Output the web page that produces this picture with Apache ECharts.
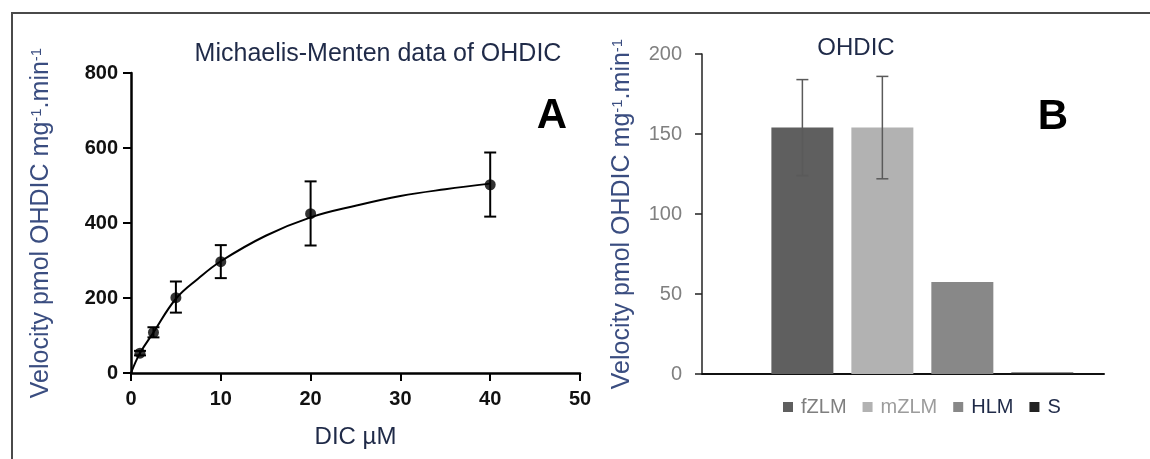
<!DOCTYPE html>
<html>
<head>
<meta charset="utf-8">
<script src="https://cdn.jsdelivr.net/npm/echarts@6/dist/echarts.min.js"></script>
<style>
  html, body { margin: 0; padding: 0; background: #fff; }
  #main { width: 1150px; height: 459px; }
</style>
</head>
<body>
<div id="main"></div>
<script>
// ---- panel A : Michaelis-Menten data ----
var dicConc = [1, 2.5, 5, 10, 20, 40];
var velocity = [53, 108, 201, 297, 425, 502];
var velocityLow = [47, 95, 161, 253, 340, 417];
var velocityHigh = [59, 122, 244, 341, 511, 588];
// fitted curve, read as points from the figure
var fitX = [0, 1, 2.5, 5, 7.5, 10, 15, 20, 25, 30, 35, 40];
var fitY = [0, 53, 108, 198, 252, 298, 366, 415, 446, 472, 490, 505];
var xTicksA = [0, 10, 20, 30, 40, 50];
var yTicksA = [0, 200, 400, 600, 800];

// ---- panel B : OHDIC per microsome ----
var groups = ['fZLM', 'mZLM', 'HLM', 'S'];
var groupValues = [154, 154, 57.5, 1];
var groupLow = [124, 122, null, null];
var groupHigh = [184, 186, null, null];
var groupColors = ['#5f5f5f', '#b2b2b2', '#888888', '#222222'];
var legendColors = ['#7f7f7f', '#9c9c9c', '#1f2a48', '#1f2a48'];
var yTicksB = [0, 50, 100, 150, 200];

var BAR_W = 62, BAR_GAP = 0.29, PAD_W = 30;
var navy = '#1f2a48';
var nameBlue = '#3a4d80';

// offset of bar k (after the empty spacer column) from the category centre
function barOffset(k) {
    var widths = [PAD_W, BAR_W, BAR_W, BAR_W, BAR_W];
    var sum = 0;
    widths.forEach(function (w) { sum += w * (1 + BAR_GAP); });
    sum -= BAR_W * BAR_GAP;
    var off = -sum / 2;
    for (var i = 0; i < k + 1; i++) off += widths[i] * (1 + BAR_GAP);
    return off + BAR_W / 2;
}

function errBar(x, yLo, yHi, capHalf, style) {
    return {
        type: 'group',
        children: [
            { type: 'line', shape: { x1: x, y1: yLo, x2: x, y2: yHi }, style: style },
            { type: 'line', shape: { x1: x - capHalf, y1: yHi, x2: x + capHalf, y2: yHi }, style: style },
            { type: 'line', shape: { x1: x - capHalf, y1: yLo, x2: x + capHalf, y2: yLo }, style: style }
        ]
    };
}

var myChart = echarts.init(document.getElementById('main'));

var nameRich = {
    a: { fontSize: 25, color: nameBlue, fontFamily: 'Liberation Sans' },
    s: { fontSize: 15, color: nameBlue, fontFamily: 'Liberation Sans', verticalAlign: 'top' }
};
var yName = '{a|Velocity pmol OHDIC mg}{s|-1}{a|.min}{s|-1}';

var option = {
    animation: false,
    textStyle: { fontFamily: 'Liberation Sans' },
    graphic: [{
        type: 'rect',
        shape: { x: 12, y: 13, width: 1200, height: 500 },
        style: { fill: 'none', stroke: '#4a4a4a', lineWidth: 2 },
        silent: true
    }],
    title: [
        { text: 'Michaelis-Menten data of OHDIC', left: 373, top: 37, textAlign: 'center',
          textStyle: { fontSize: 25, fontWeight: 'normal', color: navy } },
        { text: 'A', left: 547, top: 90, textAlign: 'center',
          textStyle: { fontSize: 42, fontWeight: 'bold', color: '#000' } },
        { text: 'OHDIC', left: 851, top: 31, textAlign: 'center',
          textStyle: { fontSize: 24, fontWeight: 'normal', color: navy } },
        { text: 'B', left: 1048, top: 91, textAlign: 'center',
          textStyle: { fontSize: 42, fontWeight: 'bold', color: '#000' } }
    ],
    legend: {
        left: 783,
        top: 397,
        padding: 0,
        icon: 'rect',
        itemWidth: 10,
        itemHeight: 10,
        itemGap: 16,
        textStyle: { fontSize: 20, padding: [0, 0, 0, 3] },
        data: groups.map(function (g, i) {
            return { name: g, textStyle: { color: legendColors[i] } };
        })
    },
    grid: [
        { left: 131, top: 73, width: 449, height: 300 },
        { left: 702, top: 54, width: 402, height: 320 }
    ],
    xAxis: [
        {
            gridIndex: 0, type: 'value', min: 0, max: 50, interval: 10,
            name: 'DIC µM', nameLocation: 'middle', nameGap: 52,
            nameTextStyle: { fontSize: 24, color: navy },
            axisLine: { lineStyle: { color: '#000', width: 2.5 } },
            axisTick: { length: 8, lineStyle: { color: '#000', width: 2 } },
            axisLabel: { fontSize: 20, fontWeight: 'bold', color: '#111', margin: 16,
                         customValues: xTicksA },
            splitLine: { show: false }
        },
        {
            gridIndex: 1, type: 'category', data: [''],
            axisLine: { lineStyle: { color: '#111', width: 2 } },
            axisTick: { show: false },
            axisLabel: { show: false }
        }
    ],
    yAxis: [
        {
            gridIndex: 0, type: 'value', min: 0, max: 800, interval: 200,
            name: yName, nameLocation: 'middle', nameGap: 77,
            nameTextStyle: { rich: nameRich },
            axisLine: { show: true, lineStyle: { color: '#000', width: 2.5 } },
            axisTick: { show: true, length: 8, lineStyle: { color: '#000', width: 2 } },
            axisLabel: { fontSize: 20, fontWeight: 'bold', color: '#111', margin: 13,
                         customValues: yTicksA },
            splitLine: { show: false }
        },
        {
            gridIndex: 1, type: 'value', min: 0, max: 200, interval: 50,
            name: yName, nameLocation: 'middle', nameGap: 67,
            nameTextStyle: { rich: nameRich },
            axisLine: { show: true, lineStyle: { color: '#222', width: 1.5 } },
            axisTick: { show: true, length: 7, lineStyle: { color: '#222', width: 1.5 } },
            axisLabel: { fontSize: 20, color: '#808080', margin: 20, customValues: yTicksB },
            splitLine: { show: false }
        }
    ],
    series: [
        {
            name: 'fit', type: 'line', xAxisIndex: 0, yAxisIndex: 0,
            smooth: 0.4, symbol: 'none',
            lineStyle: { color: '#000', width: 2 },
            data: fitX.map(function (x, i) { return [x, fitY[i]]; }),
            z: 2
        },
        {
            name: 'errA', type: 'custom', xAxisIndex: 0, yAxisIndex: 0,
            data: dicConc.map(function (x, i) { return [x, velocityLow[i], velocityHigh[i]]; }),
            renderItem: function (params, api) {
                var lo = api.coord([api.value(0), api.value(1)]);
                var hi = api.coord([api.value(0), api.value(2)]);
                return errBar(lo[0], lo[1], hi[1], 6, { stroke: '#000', lineWidth: 2 });
            },
            z: 3
        },
        {
            name: 'points', type: 'scatter', xAxisIndex: 0, yAxisIndex: 0,
            symbolSize: 11,
            itemStyle: { color: '#000' },
            data: dicConc.map(function (x, i) { return [x, velocity[i]]; }),
            z: 4
        },
        // empty spacer column so the four bars sit where they do in the figure
        { name: '_pad', type: 'bar', xAxisIndex: 1, yAxisIndex: 1, barWidth: PAD_W, data: [] }
    ].concat(groups.map(function (g, i) {
        return {
            name: g, type: 'bar', xAxisIndex: 1, yAxisIndex: 1,
            barWidth: BAR_W, barGap: (BAR_GAP * 100) + '%',
            itemStyle: { color: groupColors[i] },
            data: [groupValues[i]]
        };
    })).concat([{
        name: 'errB', type: 'custom', xAxisIndex: 1, yAxisIndex: 1,
        data: groups.map(function (g, i) { return [0, groupLow[i], groupHigh[i], i]; })
            .filter(function (d) { return d[1] != null; }),
        renderItem: function (params, api) {
            var k = api.value(3);
            var lo = api.coord([0, api.value(1)]);
            var hi = api.coord([0, api.value(2)]);
            var x = lo[0] + barOffset(k);
            return errBar(x, lo[1], hi[1], 6, { stroke: '#5a5a5a', lineWidth: 1.5 });
        },
        z: 5
    }])
};

myChart.setOption(option);
</script>
</body>
</html>
